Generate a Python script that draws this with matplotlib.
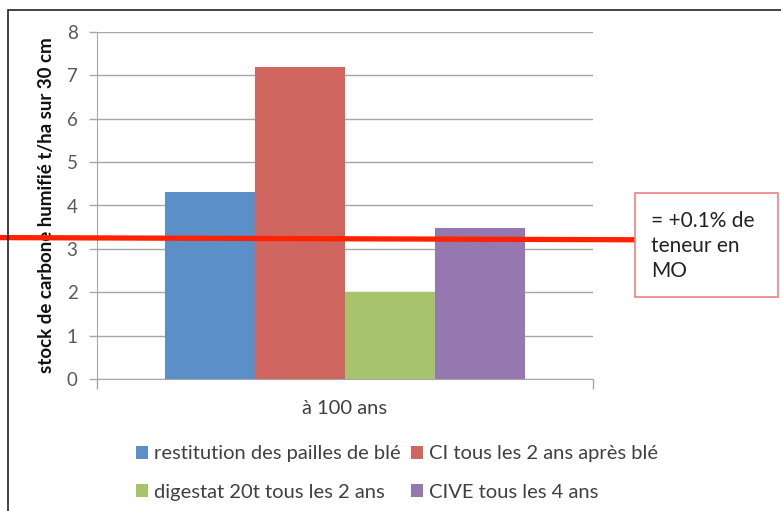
import matplotlib.pyplot as plt
from matplotlib.patches import Rectangle

# carbon stock after 100 years, t/ha over 30 cm
series = ["restitution des pailles de blé", "CI tous les 2 ans après blé",
          "digestat 20t tous les 2 ans", "CIVE tous les 4 ans"]
values = [4.3, 7.2, 2.0, 3.48]
colors = ["#5b8fc7", "#d06660", "#a7c46c", "#9578b0"]
group_label = "à 100 ans"
ref_line = [3.26, 3.21]   # +0.1% MO threshold, left and right end
yticks = [0, 1, 2, 3, 4, 5, 6, 7, 8]

plt.rcParams['font.family'] = ['Lato', 'DejaVu Sans']

fig = plt.figure(figsize=(7.81, 5.11), dpi=100)
ax = fig.add_axes([97 / 781, 1 - 379 / 511, 496 / 781, 347 / 511])

# outer frame of the chart area
fig.patches.append(Rectangle((8 / 781, -0.1), 1.1, 1 - 10 / 511 + 0.1,
                             transform=fig.transFigure, fill=False,
                             edgecolor="#222222", linewidth=1.2))

width = 0.1815
start = 0.5 - 2 * width
bars = []
for i, (name, v, c) in enumerate(zip(series, values, colors)):
    b = ax.bar(start + (i + 0.5) * width, v, width, color=c, label=name,
               zorder=3)
    bars.append(b)

ax.set_xlim(0, 1)
ax.set_ylim(0, 8)
ax.set_yticks(yticks)
ax.set_yticklabels([str(t) for t in yticks], fontsize=13.5, color="#595959")
ax.yaxis.grid(True, color="#a6a6a6", linewidth=1.0, zorder=0)
ax.set_xticks([0, 1])
ax.set_xticklabels(["", ""])
ax.tick_params(axis="x", length=7, color="#a6a6a6", width=1)
ax.tick_params(axis="y", length=6, color="#a6a6a6", width=1, pad=8)
for s in ["top", "right"]:
    ax.spines[s].set_visible(False)
for s in ["left", "bottom"]:
    ax.spines[s].set_color("#a6a6a6")

ax.text(0.5, -0.085, group_label, transform=ax.transAxes, ha="center",
        va="center", fontsize=14.5, color="#404040")
ax.set_ylabel("stock de carbone humifié t/ha sur 30 cm", fontsize=13.5,
              fontweight="bold", color="#111111", labelpad=8)

# reference line running out of the plot to the note box
ax.plot([-0.196, 1.085], ref_line, color="#ff2200", linewidth=3.8,
        clip_on=False, zorder=5, solid_capstyle="butt")

fig.text(651 / 781, 1 - 246 / 511, "= +0.1% de\nteneur en\nMO", fontsize=15,
         color="#222222", ha="left", va="center", linespacing=1.3)
fig.patches.append(Rectangle((635 / 781, 1 - 297 / 511), 143 / 781, 104 / 511,
                             transform=fig.transFigure, facecolor="white",
                             edgecolor="#f08080", linewidth=1.2, zorder=0))

order = [0, 2, 1, 3]
leg = fig.legend([bars[i] for i in order], [series[i] for i in order],
                 ncol=2, loc="center left", bbox_to_anchor=(118 / 781, 1 - 473 / 511),
                 frameon=False, fontsize=14.5, handlelength=0.6, handleheight=0.6,
                 handletextpad=0.3, columnspacing=0.5, labelspacing=1.05)
for t in leg.get_texts():
    t.set_color("#404040")

fig.savefig("out.png", dpi=100)
